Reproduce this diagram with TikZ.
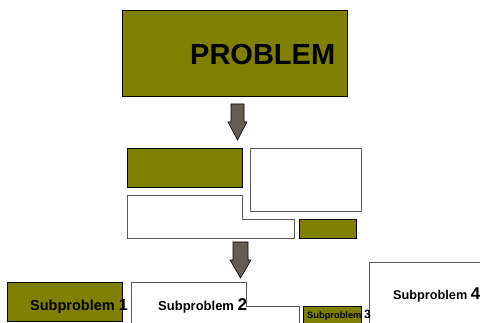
\documentclass[tikz,border=0pt]{standalone}
\usepackage{fontspec}
\setmainfont{Liberation Sans}
\definecolor{olivebox}{RGB}{128,128,0}
\definecolor{arrowfill}{RGB}{99,93,84}
\definecolor{edgegray}{RGB}{90,90,90}
\begin{document}
\begin{tikzpicture}[x=1pt,y=-1pt,
  obox/.style={draw=black,fill=olivebox,line width=0.8pt},
  wbox/.style={draw=edgegray,fill=white,line width=0.8pt},
  blockarrow/.style={draw=black,fill=arrowfill,line width=0.6pt},
  txt/.style={inner sep=0pt,anchor=base west,font=\bfseries}]
\useasboundingbox (0,0) rectangle (480,323);
\clip (0,0) rectangle (480,323);
% top problem box
\draw[obox] (122,10) rectangle (347,96);
\node[txt,font=\fontsize{29}{29}\selectfont\bfseries] (problem) at (190,65) {PROBLEM};
% arrow 1
\draw[blockarrow] (231,104) -- (244,104) -- (244,122) -- (247,122) -- (237.5,140)
  -- (228,122) -- (231,122) -- cycle;
% middle layer
\draw[obox] (127,148) rectangle (242,187);
\draw[wbox] (250,148) rectangle (361,211);
\draw[wbox] (127,195) -- (242,195) -- (242,219) -- (294,219) -- (294,238) -- (127,238) -- cycle;
\draw[obox] (299,219) rectangle (356,238);
% arrow 2
\draw[blockarrow] (233,242) -- (248,242) -- (248,260) -- (251,260) -- (240.5,278)
  -- (230,260) -- (233,260) -- cycle;
% bottom layer
\draw[obox] (7,282) rectangle (122,321);
\draw[wbox] (131,282) -- (246,282) -- (246,306) -- (299,306) -- (299,340) -- (131,340) -- cycle;
\draw[obox] (303,306) rectangle (361,340);
\draw[wbox] (369,262) rectangle (500,340);
\node[txt,font=\fontsize{14.5}{14.5}\selectfont\bfseries] (s1) at (30,311)
  {Subproblem {\fontsize{16}{16}\selectfont 1}};
\node[txt,font=\fontsize{13}{13}\selectfont\bfseries] (s2) at (158,311)
  {Subproblem {\fontsize{17}{17}\selectfont 2}};
\node[txt,font=\fontsize{9.3}{9.3}\selectfont\bfseries] (s3) at (307,319)
  {Subproblem {\fontsize{12}{12}\selectfont 3}};
\node[txt,font=\fontsize{12.7}{12.7}\selectfont\bfseries] (s4) at (393,300)
  {Subproblem {\fontsize{17}{17}\selectfont 4}};
\end{tikzpicture}
\end{document}
